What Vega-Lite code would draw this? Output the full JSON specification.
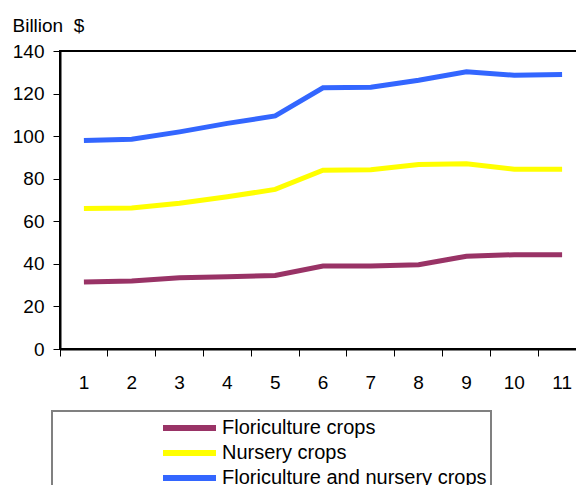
{
  "$schema": "https://vega.github.io/schema/vega-lite/v6.json",
  "width": 526,
  "height": 298,
  "autosize": {"type": "none"},
  "padding": {"left": 60, "top": 51, "right": 0, "bottom": 136},
  "config": {
    "font": "Liberation Sans",
    "view": {"stroke": "black", "strokeWidth": 2},
    "legend": {"strokeWidth": 2}
  },
  "data": {
    "values": [
      {"x": 1, "series": "Floriculture crops", "v": 31.5},
      {"x": 2, "series": "Floriculture crops", "v": 32},
      {"x": 3, "series": "Floriculture crops", "v": 33.5},
      {"x": 4, "series": "Floriculture crops", "v": 34},
      {"x": 5, "series": "Floriculture crops", "v": 34.5},
      {"x": 6, "series": "Floriculture crops", "v": 39},
      {"x": 7, "series": "Floriculture crops", "v": 39},
      {"x": 8, "series": "Floriculture crops", "v": 39.6},
      {"x": 9, "series": "Floriculture crops", "v": 43.6},
      {"x": 10, "series": "Floriculture crops", "v": 44.3},
      {"x": 11, "series": "Floriculture crops", "v": 44.3},
      {"x": 1, "series": "Nursery crops", "v": 66},
      {"x": 2, "series": "Nursery crops", "v": 66.2},
      {"x": 3, "series": "Nursery crops", "v": 68.5},
      {"x": 4, "series": "Nursery crops", "v": 71.5},
      {"x": 5, "series": "Nursery crops", "v": 75},
      {"x": 6, "series": "Nursery crops", "v": 84},
      {"x": 7, "series": "Nursery crops", "v": 84.2},
      {"x": 8, "series": "Nursery crops", "v": 86.7},
      {"x": 9, "series": "Nursery crops", "v": 87},
      {"x": 10, "series": "Nursery crops", "v": 84.5},
      {"x": 11, "series": "Nursery crops", "v": 84.5},
      {"x": 1, "series": "Floriculture and nursery crops", "v": 98},
      {"x": 2, "series": "Floriculture and nursery crops", "v": 98.5},
      {"x": 3, "series": "Floriculture and nursery crops", "v": 102},
      {"x": 4, "series": "Floriculture and nursery crops", "v": 106},
      {"x": 5, "series": "Floriculture and nursery crops", "v": 109.5},
      {"x": 6, "series": "Floriculture and nursery crops", "v": 122.7},
      {"x": 7, "series": "Floriculture and nursery crops", "v": 123},
      {"x": 8, "series": "Floriculture and nursery crops", "v": 126.3},
      {"x": 9, "series": "Floriculture and nursery crops", "v": 130.2},
      {"x": 10, "series": "Floriculture and nursery crops", "v": 128.6},
      {"x": 11, "series": "Floriculture and nursery crops", "v": 129}
    ]
  },
  "mark": {"type": "line", "strokeWidth": 5, "strokeCap": "butt", "strokeJoin": "miter"},
  "encoding": {
    "x": {
      "field": "x",
      "type": "ordinal",
      "scale": {"type": "band", "paddingInner": 0, "paddingOuter": 0},
      "axis": {
        "title": null,
        "labelAngle": 0,
        "labelFontSize": 19,
        "labelColor": "black",
        "labelPadding": 17,
        "ticks": true,
        "tickSize": 7,
        "tickColor": "black",
        "tickWidth": 1,
        "bandPosition": 0,
        "domainColor": "black",
        "domainWidth": 2,
        "grid": false
      }
    },
    "y": {
      "field": "v",
      "type": "quantitative",
      "scale": {"domain": [0, 140], "nice": false},
      "axis": {
        "title": "Billion\u00a0\u00a0$",
        "titleAngle": 0,
        "titleAlign": "left",
        "titleBaseline": "alphabetic",
        "titleX": -48,
        "titleY": -20,
        "titleFontSize": 19,
        "titleFontWeight": "normal",
        "titleColor": "black",
        "values": [0, 20, 40, 60, 80, 100, 120, 140],
        "labelFontSize": 19,
        "labelColor": "black",
        "labelPadding": 9,
        "tickSize": 7,
        "tickColor": "black",
        "domainColor": "black",
        "domainWidth": 2,
        "grid": false
      }
    },
    "color": {
      "field": "series",
      "type": "nominal",
      "scale": {
        "domain": ["Floriculture crops", "Nursery crops", "Floriculture and nursery crops"],
        "range": ["#993366", "#FFFF00", "#3366FF"]
      },
      "legend": {
        "orient": "none",
        "legendX": -8,
        "legendY": 360,
        "title": null,
        "direction": "vertical",
        "symbolType": "M-2.65,0H2.65",
        "symbolSize": 400,
        "symbolStrokeWidth": 6,
        "symbolOffset": 120.5,
        "labelFontSize": 20,
        "labelColor": "black",
        "labelOffset": 19.5,
        "labelLimit": 400,
        "rowPadding": 0,
        "padding": 4,
        "strokeColor": "#808080",
        "fillColor": "white"
      }
    }
  }
}
